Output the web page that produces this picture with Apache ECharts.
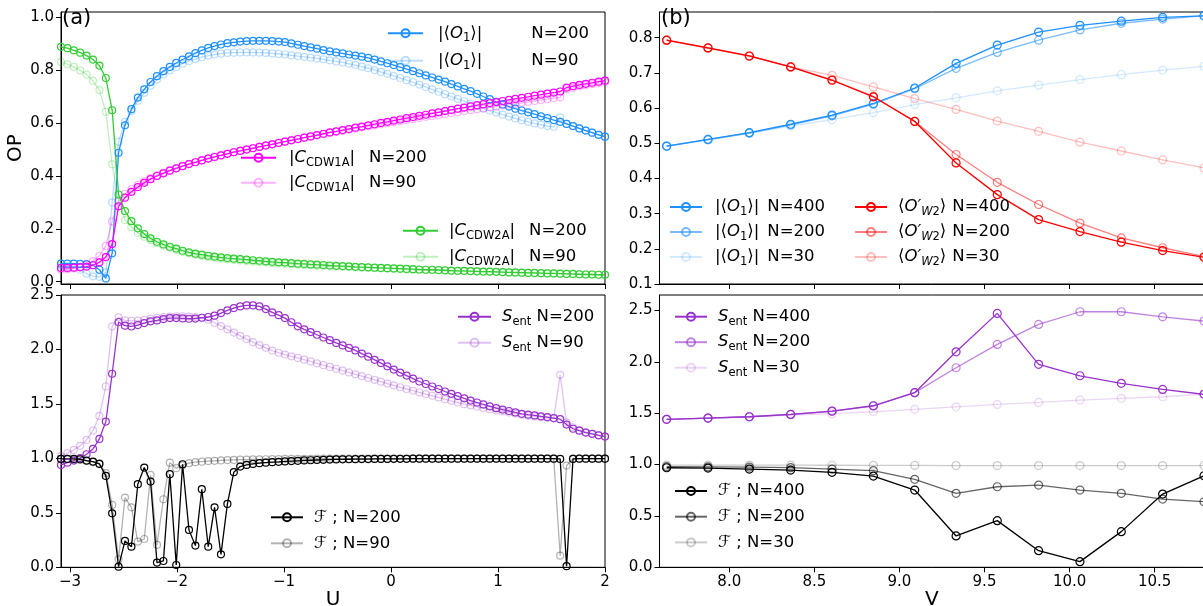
<!DOCTYPE html>
<html>
<head>
<meta charset="utf-8">
<script src="https://cdn.jsdelivr.net/npm/echarts@6.0.0/dist/echarts.min.js"></script>
<style>html,body{margin:0;padding:0;background:#fff}#main{width:1203px;height:606px}</style>
</head>
<body>
<div id="main"></div>
<script>
// ---- panel (a): x grid U ----
var uVals = [-3.084,-3.024,-2.964,-2.905,-2.845,-2.785,-2.725,-2.665,-2.606,-2.546,
  -2.486,-2.426,-2.366,-2.306,-2.247,-2.187,-2.127,-2.067,-2.007,-1.948,
  -1.888,-1.828,-1.768,-1.708,-1.649,-1.589,-1.529,-1.469,-1.409,-1.349,
  -1.290,-1.230,-1.170,-1.110,-1.050,-0.991,-0.931,-0.871,-0.811,-0.751,
  -0.692,-0.632,-0.572,-0.512,-0.452,-0.393,-0.333,-0.273,-0.213,-0.153,
  -0.094,-0.034,0.026,0.086,0.146,0.206,0.265,0.325,0.385,0.445,
  0.505,0.564,0.624,0.684,0.744,0.804,0.863,0.923,0.983,1.043,
  1.103,1.162,1.222,1.282,1.342,1.402,1.461,1.521,1.581,1.641,
  1.701,1.760,1.820,1.880,1.940,2.000];

var o1N200 = [0.068,0.068,0.068,0.067,0.066,0.062,0.045,0.012,0.107,0.488,
  0.592,0.653,0.697,0.728,0.756,0.778,0.797,0.813,0.828,0.841,
  0.853,0.865,0.876,0.885,0.892,0.898,0.903,0.906,0.909,0.911,
  0.912,0.912,0.912,0.911,0.909,0.907,0.902,0.897,0.892,0.887,
  0.882,0.877,0.872,0.868,0.864,0.860,0.856,0.852,0.847,0.841,
  0.834,0.827,0.820,0.812,0.805,0.797,0.789,0.781,0.773,0.765,
  0.757,0.748,0.739,0.730,0.721,0.711,0.701,0.691,0.681,0.671,
  0.663,0.655,0.648,0.641,0.634,0.626,0.619,0.612,0.605,0.597,
  0.589,0.580,0.572,0.564,0.556,0.549];
var o1N90 = [0.060,0.060,0.055,0.045,0.030,0.020,0.018,0.035,0.300,0.530,
  0.605,0.645,0.685,0.715,0.742,0.765,0.784,0.800,0.813,0.825,
  0.835,0.843,0.850,0.856,0.860,0.863,0.866,0.867,0.868,0.868,
  0.868,0.867,0.866,0.864,0.862,0.860,0.857,0.854,0.851,0.848,
  0.845,0.842,0.838,0.834,0.830,0.825,0.820,0.814,0.808,0.801,
  0.794,0.787,0.779,0.771,0.763,0.755,0.746,0.737,0.728,0.719,
  0.710,0.701,0.692,0.683,0.674,0.665,0.656,0.648,0.640,0.632,
  0.625,0.618,0.611,0.605,0.599,0.594,0.589,0.586,0.622,0.597,
  0.589,0.580,0.572,0.564,0.556,0.549];
var cdw1N200 = [0.052,0.052,0.053,0.054,0.057,0.062,0.073,0.093,0.142,0.285,
  0.318,0.340,0.358,0.374,0.388,0.400,0.410,0.420,0.429,0.437,
  0.445,0.452,0.459,0.466,0.472,0.478,0.484,0.490,0.495,0.500,
  0.505,0.510,0.515,0.520,0.525,0.530,0.535,0.540,0.545,0.550,
  0.555,0.560,0.565,0.569,0.574,0.578,0.583,0.587,0.592,0.596,
  0.601,0.605,0.610,0.614,0.619,0.623,0.628,0.632,0.637,0.641,
  0.646,0.650,0.655,0.659,0.664,0.668,0.672,0.676,0.680,0.684,
  0.688,0.692,0.696,0.700,0.704,0.708,0.712,0.716,0.720,0.735,
  0.740,0.745,0.749,0.753,0.757,0.761];
var cdw1N90 = [0.045,0.047,0.050,0.056,0.065,0.078,0.098,0.135,0.228,0.305,
  0.332,0.350,0.366,0.380,0.392,0.403,0.413,0.422,0.430,0.438,
  0.446,0.453,0.460,0.467,0.473,0.479,0.485,0.491,0.496,0.501,
  0.506,0.511,0.516,0.521,0.526,0.531,0.536,0.540,0.545,0.549,
  0.554,0.558,0.563,0.567,0.571,0.575,0.580,0.584,0.588,0.592,
  0.596,0.600,0.604,0.608,0.612,0.616,0.620,0.624,0.627,0.631,
  0.635,0.639,0.642,0.646,0.649,0.653,0.656,0.660,0.663,0.667,
  0.670,0.674,0.677,0.681,0.684,0.688,0.691,0.695,0.698,0.728,
  0.734,0.739,0.744,0.748,0.752,0.756];
var cdw2N200 = [0.889,0.884,0.876,0.867,0.856,0.841,0.818,0.771,0.649,0.330,
  0.267,0.229,0.202,0.180,0.164,0.151,0.141,0.132,0.125,0.117,
  0.111,0.106,0.102,0.098,0.095,0.092,0.089,0.087,0.085,0.083,
  0.081,0.079,0.077,0.075,0.073,0.072,0.070,0.068,0.067,0.065,
  0.064,0.063,0.061,0.060,0.059,0.058,0.056,0.055,0.054,0.053,
  0.052,0.051,0.050,0.049,0.048,0.047,0.046,0.045,0.045,0.044,
  0.043,0.042,0.041,0.041,0.040,0.039,0.038,0.038,0.037,0.036,
  0.035,0.035,0.034,0.033,0.033,0.032,0.031,0.031,0.030,0.029,
  0.029,0.028,0.027,0.027,0.026,0.026];
var cdw2N90 = [0.832,0.823,0.813,0.800,0.784,0.760,0.725,0.643,0.444,0.310,
  0.233,0.206,0.185,0.170,0.157,0.146,0.136,0.128,0.120,0.113,
  0.107,0.102,0.097,0.093,0.090,0.087,0.084,0.082,0.080,0.078,
  0.076,0.074,0.072,0.070,0.069,0.067,0.066,0.064,0.063,0.062,
  0.060,0.059,0.058,0.057,0.056,0.055,0.054,0.053,0.052,0.051,
  0.050,0.049,0.048,0.047,0.046,0.045,0.044,0.044,0.043,0.042,
  0.041,0.041,0.040,0.039,0.039,0.038,0.037,0.037,0.036,0.035,
  0.035,0.034,0.033,0.033,0.032,0.032,0.031,0.030,0.030,0.029,
  0.028,0.028,0.027,0.027,0.026,0.025];
var sentN200 = [0.940,0.961,0.980,1.002,1.038,1.087,1.179,1.338,1.777,2.252,
  2.218,2.211,2.224,2.242,2.258,2.267,2.279,2.288,2.288,2.285,
  2.282,2.284,2.291,2.298,2.310,2.334,2.359,2.380,2.395,2.404,
  2.404,2.395,2.371,2.340,2.315,2.288,2.250,2.212,2.185,2.160,
  2.135,2.110,2.085,2.060,2.037,2.014,1.991,1.962,1.934,1.905,
  1.875,1.845,1.815,1.788,1.760,1.733,1.706,1.683,1.660,1.637,
  1.614,1.593,1.572,1.551,1.531,1.513,1.495,1.478,1.461,1.448,
  1.435,1.422,1.409,1.401,1.394,1.386,1.379,1.370,1.360,1.310,
  1.272,1.254,1.237,1.225,1.212,1.200];
var sentN90 = [1.020,1.048,1.078,1.115,1.170,1.256,1.390,1.660,2.212,2.295,
  2.267,2.262,2.265,2.272,2.280,2.290,2.298,2.302,2.305,2.305,
  2.302,2.298,2.290,2.272,2.245,2.215,2.185,2.155,2.125,2.095,
  2.067,2.040,2.015,1.990,1.970,1.953,1.937,1.922,1.906,1.890,
  1.873,1.856,1.840,1.823,1.806,1.789,1.772,1.755,1.738,1.721,
  1.704,1.687,1.670,1.653,1.637,1.621,1.605,1.590,1.575,1.560,
  1.544,1.528,1.513,1.498,1.486,1.474,1.462,1.451,1.441,1.431,
  1.421,1.411,1.401,1.392,1.385,1.378,1.372,1.366,1.767,1.330,
  1.285,1.260,1.240,1.226,1.213,1.200];
var fidN200 = [0.995,0.995,0.995,0.992,0.980,0.971,0.949,0.839,0.496,0.006,
  0.242,0.189,0.763,0.916,0.787,0.043,0.058,0.855,0.021,0.946,
  0.343,0.199,0.717,0.189,0.551,0.119,0.582,0.873,0.925,0.940,
  0.949,0.956,0.961,0.965,0.968,0.972,0.975,0.978,0.981,0.983,
  0.985,0.987,0.989,0.990,0.991,0.992,0.993,0.994,0.994,0.995,
  0.995,0.995,0.996,0.996,0.996,0.997,0.997,0.997,0.997,0.997,
  0.997,0.997,0.997,0.997,0.997,0.997,0.997,0.997,0.997,0.997,
  0.997,0.997,0.997,0.997,0.997,0.997,0.997,0.997,0.995,0.010,
  0.995,0.997,0.997,0.997,0.997,0.997];
var fidN90 = [0.995,0.995,0.990,0.985,0.975,0.965,0.955,0.864,0.573,0.073,
  0.640,0.551,0.236,0.260,0.848,0.205,0.625,0.961,0.910,0.935,
  0.956,0.965,0.970,0.975,0.978,0.981,0.984,0.986,0.988,0.989,
  0.990,0.991,0.992,0.993,0.994,0.995,0.995,0.996,0.996,0.996,
  0.997,0.997,0.997,0.997,0.997,0.997,0.997,0.997,0.997,0.997,
  0.997,0.997,0.997,0.997,0.997,0.997,0.997,0.997,0.997,0.997,
  0.997,0.997,0.997,0.997,0.997,0.997,0.997,0.997,0.997,0.997,
  0.997,0.997,0.997,0.997,0.997,0.997,0.997,0.997,0.107,0.934,
  0.997,0.997,0.997,0.997,0.997,0.997];

// ---- panel (b): x grid V ----
var vVals = [7.632,7.875,8.118,8.361,8.604,8.847,9.090,9.333,9.575,9.818,10.061,10.304,10.547,10.790];
var bO1N400 = [0.492,0.511,0.530,0.554,0.580,0.613,0.657,0.727,0.779,0.816,0.835,0.847,0.858,0.862];
var bO1N200 = [0.492,0.510,0.529,0.552,0.578,0.611,0.655,0.713,0.758,0.793,0.822,0.841,0.853,0.862];
var bO1N30  = [0.491,0.509,0.528,0.549,0.567,0.587,0.610,0.629,0.649,0.665,0.681,0.695,0.708,0.719];
var bOpN400 = [0.793,0.771,0.748,0.717,0.679,0.632,0.562,0.444,0.354,0.283,0.249,0.219,0.195,0.176];
var bOpN200 = [0.793,0.771,0.748,0.717,0.680,0.633,0.562,0.468,0.389,0.326,0.273,0.231,0.203,0.178];
var bOpN30  = [0.792,0.770,0.747,0.717,0.693,0.660,0.627,0.596,0.563,0.534,0.503,0.478,0.453,0.430];
var bSN400 = [1.440,1.452,1.465,1.488,1.520,1.572,1.699,2.097,2.471,1.975,1.864,1.790,1.731,1.683];
var bSN200 = [1.440,1.452,1.465,1.487,1.518,1.570,1.700,1.942,2.169,2.364,2.487,2.487,2.438,2.396];
var bSN30  = [1.440,1.451,1.463,1.482,1.495,1.514,1.537,1.562,1.585,1.605,1.627,1.644,1.660,1.683];
var bFN400 = [0.969,0.966,0.956,0.946,0.924,0.888,0.752,0.305,0.454,0.162,0.055,0.347,0.713,0.891];
var bFN200 = [0.979,0.978,0.975,0.970,0.956,0.940,0.856,0.720,0.784,0.800,0.752,0.720,0.664,0.638];
var bFN30  = [0.995,0.995,0.995,0.994,0.993,0.992,0.991,0.990,0.990,0.990,0.990,0.990,0.990,0.990];

// tick labels
var uTicks = [-3, -2, -1, 0, 1, 2];
var vTicks = [8, 8.5, 9, 9.5, 10, 10.5];
var opTicks = [0, 0.2, 0.4, 0.6, 0.8, 1.0];
var sTicks = [0, 0.5, 1.0, 1.5, 2.0, 2.5];
var opbTicks = [0.1, 0.2, 0.3, 0.4, 0.5, 0.6, 0.7, 0.8];

var FONT = 'DejaVu Sans';
var chart = echarts.init(document.getElementById('main'));

function pts(xs, ys) {
  return xs.map(function (x, i) { return [x, ys[i]]; });
}
function line(name, xs, ys, color, idx, size) {
  return {
    name: name, type: 'line', xAxisIndex: idx, yAxisIndex: idx,
    data: pts(xs, ys),
    symbol: 'circle', symbolSize: size,
    lineStyle: {color: color, width: 1.3},
    itemStyle: {color: 'rgba(0,0,0,0)', borderColor: color, borderWidth: 1.2},
    emphasis: {disabled: true},
    silent: true
  };
}
function minusFmt(v) {
  return v < 0 ? '\u2212' + (-v) : String(v);
}
function fix1(v) { return v.toFixed(1); }

function xAx(idx, min, max, ticks, showLabel, name, fmt) {
  return {
    type: 'value', gridIndex: idx, min: min, max: max,
    name: name, nameLocation: 'middle', nameGap: 19,
    nameTextStyle: {fontFamily: FONT, fontSize: 20, color: '#000'},
    axisLine: {show: true, onZero: false, lineStyle: {color: '#000', width: 1}},
    axisTick: {show: true, length: 5, lineStyle: {color: '#000'}, customValues: ticks},
    axisLabel: {show: showLabel, customValues: ticks, formatter: fmt, margin: 7,
      fontFamily: FONT, fontSize: 15, color: '#000'},
    splitLine: {show: false}
  };
}
function yAx(idx, min, max, ticks, name) {
  return {
    type: 'value', gridIndex: idx, min: min, max: max,
    name: name, nameLocation: 'middle', nameGap: 34,
    nameTextStyle: {fontFamily: FONT, fontSize: 20, color: '#000'},
    axisLine: {show: true, onZero: false, lineStyle: {color: '#000', width: 1}},
    axisTick: {show: true, length: 5, lineStyle: {color: '#000'}, customValues: ticks},
    axisLabel: {customValues: ticks, formatter: fix1, margin: 7,
      fontFamily: FONT, fontSize: 15, color: '#000'},
    splitLine: {show: false}
  };
}

var blue = '#1e90ff', mag = '#ff00ff', grn = '#32cd32', pur = '#9932cc', red = '#ff0000';
function fade(hex, a) {
  var r = parseInt(hex.slice(1, 3), 16), g = parseInt(hex.slice(3, 5), 16), b = parseInt(hex.slice(5, 7), 16);
  return 'rgba(' + r + ',' + g + ',' + b + ',' + a + ')';
}

var series = [
  line('O1 N=200', uVals, o1N200, blue, 0, 7),
  line('O1 N=90', uVals, o1N90, fade(blue, 0.3), 0, 7),
  line('C1 N=200', uVals, cdw1N200, mag, 0, 7),
  line('C1 N=90', uVals, cdw1N90, fade(mag, 0.3), 0, 7),
  line('C2 N=200', uVals, cdw2N200, grn, 0, 7),
  line('C2 N=90', uVals, cdw2N90, fade(grn, 0.3), 0, 7),
  line('S N=200', uVals, sentN200, pur, 1, 7),
  line('S N=90', uVals, sentN90, fade(pur, 0.3), 1, 7),
  line('F N=200', uVals, fidN200, '#000000', 1, 7),
  line('F N=90', uVals, fidN90, fade('#000000', 0.3), 1, 7),
  line('bO1 N=400', vVals, bO1N400, blue, 2, 8),
  line('bO1 N=200', vVals, bO1N200, fade(blue, 0.6), 2, 8),
  line('bO1 N=30', vVals, bO1N30, fade(blue, 0.2), 2, 8),
  line('bOp N=400', vVals, bOpN400, red, 2, 8),
  line('bOp N=200', vVals, bOpN200, fade(red, 0.5), 2, 8),
  line('bOp N=30', vVals, bOpN30, fade(red, 0.25), 2, 8),
  line('bS N=400', vVals, bSN400, pur, 3, 8),
  line('bS N=200', vVals, bSN200, fade(pur, 0.6), 3, 8),
  line('bS N=30', vVals, bSN30, fade(pur, 0.2), 3, 8),
  line('bF N=400', vVals, bFN400, '#000000', 3, 8),
  line('bF N=200', vVals, bFN200, fade('#000000', 0.6), 3, 8),
  line('bF N=30', vVals, bFN30, fade('#000000', 0.2), 3, 8)
];

var o1 = '|\u27e8{i|O}{s|1}\u27e9|';
var c1 = '|{i|C}{s|CDW1A}|';
var c2 = '|{i|C}{s|CDW2A}|';
var op = '\u27e8{i|O\u2032}{si|W}{s|2}\u27e9';
var sent = '{i|S}{s|ent}';
var fid = '{i|\u2131}';
var labels = {
  'O1 N=200': '{p10| }' + o1 + '{g49| }N=200',
  'O1 N=90': '{p10| }' + o1 + '{g49| }N=90',
  'C1 N=200': '{p8| }' + c1 + '{g14| }N=200',
  'C1 N=90': '{p8| }' + c1 + '{g14| }N=90',
  'C2 N=200': '{p6| }' + c2 + '{g14| }N=200',
  'C2 N=90': '{p6| }' + c2 + '{g14| }N=90',
  'S N=200': '{p6| }' + sent + ' N=200',
  'S N=90': '{p6| }' + sent + ' N=90',
  'F N=200': '{p6| }' + fid + ' ; N=200',
  'F N=90': '{p6| }' + fid + ' ; N=90',
  'bO1 N=400': '{p8| }' + o1 + '{g8| }N=400',
  'bO1 N=200': '{p8| }' + o1 + '{g8| }N=200',
  'bO1 N=30': '{p8| }' + o1 + '{g8| }N=30',
  'bOp N=400': '{p6| }' + op + '{g6| }N=400',
  'bOp N=200': '{p6| }' + op + '{g6| }N=200',
  'bOp N=30': '{p6| }' + op + '{g6| }N=30',
  'bS N=400': '{p6| }' + sent + ' N=400',
  'bS N=200': '{p6| }' + sent + ' N=200',
  'bS N=30': '{p6| }' + sent + ' N=30',
  'bF N=400': '{p6| }' + fid + ' ; N=400',
  'bF N=200': '{p6| }' + fid + ' ; N=200',
  'bF N=30': '{p6| }' + fid + ' ; N=30'
};
var rich = {
  i: {fontFamily: FONT, fontSize: 16.5, fontStyle: 'italic', lineHeight: 22},
  s: {fontFamily: FONT, fontSize: 11.5, lineHeight: 13, verticalAlign: 'bottom'},
  si: {fontFamily: FONT, fontSize: 11.5, fontStyle: 'italic', lineHeight: 13, verticalAlign: 'bottom'},
  p10: {width: 10}, p8: {width: 8}, p6: {width: 6},
  g49: {width: 49}, g14: {width: 14}, g8: {width: 8}, g6: {width: 6}
};
function legend(names, left, top, gap, w) {
  return {
    data: names, orient: 'vertical', left: left, top: top, itemGap: gap,
    itemWidth: w, itemHeight: 10, padding: 0, selectedMode: false, align: 'left',
    formatter: function (n) { return labels[n]; },
    textStyle: {fontFamily: FONT, fontSize: 16.5, lineHeight: 22, color: '#000', rich: rich}
  };
}

var option = {
  animation: false,
  backgroundColor: '#fff',
  textStyle: {fontFamily: FONT},
  grid: [
    {left: 61, top: 12, width: 544, height: 272, show: true, borderColor: '#000', borderWidth: 1, outerBoundsMode: 'none'},
    {left: 61, top: 295, width: 544, height: 272.3, show: true, borderColor: '#000', borderWidth: 1, outerBoundsMode: 'none'},
    {left: 659.5, top: 12, right: -1, height: 272, show: true, borderColor: '#000', borderWidth: 1, outerBoundsMode: 'none'},
    {left: 659.5, top: 295, right: -1, height: 272.3, show: true, borderColor: '#000', borderWidth: 1, outerBoundsMode: 'none'}
  ],
  xAxis: [
    xAx(0, -3.084, 2, uTicks, false, '', minusFmt),
    xAx(1, -3.084, 2, uTicks, true, 'U', minusFmt),
    xAx(2, 7.59, 10.79, vTicks, false, '', fix1),
    xAx(3, 7.59, 10.79, vTicks, true, 'V', fix1)
  ],
  yAxis: [
    yAx(0, -0.009, 1.021, opTicks, 'OP'),
    yAx(1, 0, 2.5, sTicks, ''),
    yAx(2, 0.1, 0.873, opbTicks, ''),
    yAx(3, 0, 2.65, sTicks, '')
  ],
  legend: [
    legend(['O1 N=200', 'O1 N=90'], 387, 22.3, 5.4, 35),
    legend(['C1 N=200', 'C1 N=90'], 240, 146.7, 3, 35),
    legend(['C2 N=200', 'C2 N=90'], 402, 219.7, 4, 35),
    legend(['S N=200', 'S N=90'], 457, 305.7, 4, 33),
    legend(['F N=200', 'F N=90'], 270, 506.3, 4, 32),
    legend(['bO1 N=400', 'bO1 N=200', 'bO1 N=30'], 669, 196, 3, 32),
    legend(['bOp N=400', 'bOp N=200', 'bOp N=30'], 854, 196, 3, 32),
    legend(['bS N=400', 'bS N=200', 'bS N=30'], 674, 305.7, 3.5, 32),
    legend(['bF N=400', 'bF N=200', 'bF N=30'], 674, 480, 3.7, 32)
  ],
  graphic: [
    {type: 'text', left: 62, top: 8, style: {text: '(a)', font: '21px "DejaVu Sans"', fill: '#000'}},
    {type: 'text', left: 661, top: 8, style: {text: '(b)', font: '21px "DejaVu Sans"', fill: '#000'}}
  ],
  series: series
};
chart.setOption(option);
</script>
</body>
</html>
